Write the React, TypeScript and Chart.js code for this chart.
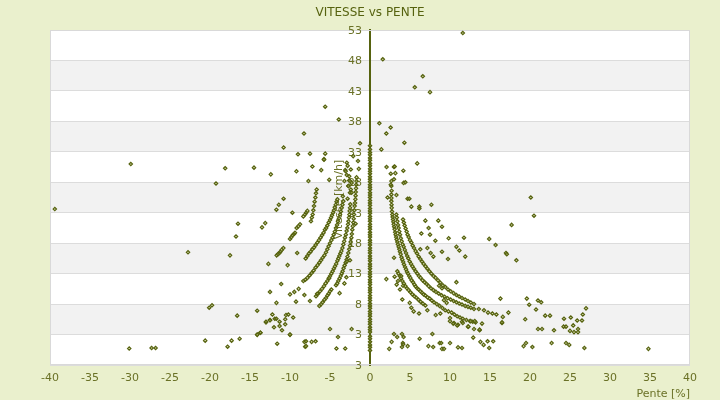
import { useEffect, useRef } from 'react'
import Chart from 'chart.js/auto'
import type { ChartConfiguration, Plugin } from 'chart.js'

const chartTitle = 'VITESSE vs PENTE'
const xTitle = 'Pente [%]'
const yTitle = 'Vitesse [km/h]'

// labels as printed on the axis, bottom to top
const yTickLabels = ['3', '3', '8', '13', '18', '23', '28', '33', '38', '43', '48', '53']

// speeds logged on flat ground (pente = 0)
const flatSpeeds = [
  34.0, 33.4, 32.9, 32.5, 32.0, 31.6, 31.1, 30.7, 30.2, 29.8, 29.4, 28.9, 28.5, 28.1, 27.6,
  27.2, 26.8, 26.3, 25.9, 25.5, 25.0, 24.6, 24.2, 23.7, 23.3, 22.9, 22.4, 22.0, 21.6, 21.1,
  20.7, 20.3, 19.8, 19.4, 19.0, 18.5, 18.1, 17.7, 17.2, 16.8, 16.4, 15.9, 15.5, 15.1, 14.6,
  14.2, 13.8, 13.3, 12.9, 12.5, 12.0, 11.6, 11.2, 10.7, 10.3, 9.9, 9.4, 9.0, 8.6, 8.1, 7.7,
  7.3, 6.8, 6.4, 6.0, 5.5, 5.1, 4.7, 4.2, 3.8, 3.4, 2.7, 2.3, 1.8, 1.3, 0.9, 0.4,
]

// descents: [pente, vitesse]
const downhillStreaks: [number, number][] = [
  [-6.33, 7.7], [-6.1, 8.0], [-5.92, 8.3], [-5.7, 8.7], [-5.5, 9.0], [-5.33, 9.4], [-5.17, 9.7], [-5.0, 10.1], [-4.83, 10.4],
  [-6.75, 9.3], [-6.5, 9.7], [-6.25, 10.1], [-6.0, 10.5], [-5.75, 10.95], [-5.55, 11.4], [-5.33, 11.8], [-5.15, 12.2],
  [-5.0, 12.6], [-4.83, 13.0], [-4.67, 13.4], [-4.52, 13.8], [-4.38, 14.2], [-4.23, 14.6], [-4.08, 15.1], [-3.95, 15.5],
  [-3.83, 15.9], [-3.7, 16.3], [-3.58, 16.7], [-3.45, 17.2], [-3.33, 17.8], [-3.23, 18.3], [-3.13, 18.9], [-3.02, 19.4],
  [-2.92, 20.0], [-2.83, 20.5], [-2.75, 21.1], [-2.69, 21.6], [-2.63, 22.2], [-2.58, 22.7], [-2.54, 23.3], [-2.5, 23.8], [-2.46, 24.4],
  [-8.33, 11.8], [-8.08, 12.0], [-7.83, 12.3], [-7.55, 12.7], [-7.29, 13.1], [-7.05, 13.5], [-6.79, 14.0], [-6.55, 14.4],
  [-6.33, 14.8], [-6.12, 15.2], [-5.92, 15.6], [-5.7, 16.0], [-5.5, 16.5], [-5.33, 17.0], [-5.17, 17.5], [-5.0, 18.0],
  [-4.83, 18.5], [-4.68, 18.9], [-4.54, 19.4], [-4.4, 19.9], [-4.25, 20.5], [-4.12, 21.0], [-4.0, 21.6], [-3.87, 22.1],
  [-3.75, 22.7], [-3.64, 23.2], [-3.54, 23.8], [-3.44, 24.3], [-3.33, 24.9],
  [-8.04, 15.5], [-7.83, 15.9], [-7.63, 16.3], [-7.42, 16.6], [-7.21, 17.0], [-7.0, 17.3], [-6.79, 17.7], [-6.58, 18.1],
  [-6.38, 18.5], [-6.18, 18.9], [-6.0, 19.3], [-5.81, 19.7], [-5.63, 20.2], [-5.48, 20.5], [-5.33, 20.9], [-5.16, 21.4],
  [-5.0, 21.8], [-4.87, 22.2], [-4.75, 22.6], [-4.62, 23.0], [-4.5, 23.4], [-4.4, 23.9], [-4.29, 24.3], [-4.18, 24.8], [-4.08, 25.2],
  [-4.25, 11.1], [-4.1, 11.4], [-3.96, 11.8], [-3.8, 12.2], [-3.67, 12.6], [-3.54, 13.0], [-3.42, 13.4], [-3.3, 13.9],
  [-3.17, 14.35], [-3.04, 14.8], [-2.92, 15.3], [-2.82, 15.8], [-2.71, 16.4], [-2.6, 17.0], [-2.5, 17.6], [-2.42, 18.2],
  [-2.33, 18.9], [-2.27, 19.5], [-2.21, 20.2], [-2.15, 20.8], [-2.08, 21.4], [-2.04, 22.0], [-2.0, 22.7], [-1.96, 23.4],
  [-1.92, 24.1], [-1.87, 24.6], [-1.83, 25.2],
  [-7.38, 21.6], [-7.27, 22.2], [-7.17, 22.7], [-7.08, 23.4], [-7.0, 24.1], [-6.92, 24.8], [-6.83, 25.5], [-6.75, 26.2], [-6.67, 26.8],
  [-10.0, 18.7], [-9.83, 19.0], [-9.67, 19.3], [-9.5, 19.5], [-9.38, 19.7],
  [-9.17, 20.5], [-8.95, 20.8], [-8.75, 21.1],
  [-8.33, 22.4], [-8.13, 22.7], [-7.98, 23.0], [-7.83, 23.3],
  [-11.67, 16.0], [-11.5, 16.2], [-11.33, 16.4], [-11.2, 16.6], [-11.04, 16.9], [-10.83, 17.2],
  [-10.0, 9.6], [-9.46, 10.0], [-8.92, 10.5],
  [-1.8, 25.8], [-1.78, 26.4], [-1.75, 27.0], [-1.72, 27.6], [-1.7, 28.2], [-1.68, 28.8],
]

const downhillScatter: [number, number][] = [
  [-3.1, 30.0], [-2.9, 29.2], [-3.2, 28.2], [-2.6, 28.3], [-2.7, 27.4], [-2.5, 26.3], [-2.8, 25.3], [-2.3, 27.9],
  [-2.4, 30.1], [-2.8, 30.7], [-3.4, 25.7], [-1.25, 34.4], [-5.75, 31.8],
  [-2.9, 31.2], [-3.04, 29.8], [-2.6, 29.0], [-2.5, 28.2], [-2.7, 27.4], [-2.4, 26.8], [-2.3, 26.3], [-1.5, 31.5],
  [-1.4, 30.2], [-2.1, 32.3],
  [-10.8, 33.7], [-14.5, 30.4], [-12.4, 29.3], [-9.0, 32.6], [-7.5, 32.7], [-5.6, 32.7], [-9.2, 29.8], [-7.2, 30.6],
  [-6.1, 30.0], [-5.75, 31.7], [-7.7, 28.2], [-5.1, 28.4], [-10.8, 25.3], [-11.4, 24.3], [-11.7, 23.5], [-9.7, 23.0],
  [-13.1, 21.3], [-13.5, 20.6], [-12.7, 14.6], [-10.3, 14.4], [-9.1, 16.4], [-11.1, 11.3], [-12.5, 10.0], [-11.7, 8.2],
  [-14.1, 6.9], [-12.2, 6.3], [-13.0, 5.0], [-12.5, 5.4], [-11.9, 5.6], [-11.7, 5.6], [-10.5, 6.2], [-10.2, 6.3],
  [-9.6, 5.8], [-10.6, 4.7], [-12.0, 4.2], [-11.3, 4.4], [-11.0, 3.7], [-14.1, 3.0], [-13.7, 3.3], [-10.0, 3.0],
  [-11.6, 1.5], [-8.2, 1.8], [-7.3, 1.8], [-8.1, 1.0], [-5.0, 3.9], [-4.0, 2.6], [-4.2, 0.7], [-3.1, 0.7], [-2.3, 3.9],
  [-9.25, 8.4], [-8.2, 9.5], [-7.5, 8.5], [-6.6, 9.7], [-5.1, 12.3], [-2.95, 12.4], [-3.8, 9.8], [-3.2, 11.4],
  [-1.8, 21.2], [-2.9, 15.0], [-2.5, 15.2], [-8.0, 1.9], [-8.0, 1.1], [-6.8, 1.9], [-13.0, 5.1], [-12.5, 5.35],
  [-11.3, 5.1], [-10.6, 5.5], [-10.0, 2.95],
  [-5.6, 40.4], [-3.9, 38.3], [-8.25, 36.0],
  [-29.9, 31.0], [-18.1, 30.3], [-19.25, 27.8], [-16.5, 21.2], [-16.75, 19.1], [-22.75, 16.5], [-17.5, 16.0],
  [-39.4, 23.6], [-20.1, 7.4], [-19.75, 7.8], [-16.6, 6.1], [-30.1, 0.7], [-27.3, 0.8], [-26.8, 0.8], [-20.6, 2.0],
  [-17.8, 1.0], [-17.3, 2.0], [-16.3, 2.3], [-14.1, 2.95], [-13.7, 3.3],
]

// climbs: [pente, vitesse]
const uphillStreaks: [number, number][] = [
  [2.67, 26.0], [2.67, 25.4], [2.67, 24.9], [2.69, 24.3], [2.71, 23.8], [2.75, 23.2], [2.79, 22.7], [2.83, 22.3],
  [2.88, 21.9], [2.92, 21.5], [2.96, 21.1], [3.02, 20.7], [3.08, 20.3], [3.15, 19.8], [3.21, 19.4], [3.27, 19.0],
  [3.33, 18.6], [3.42, 18.2], [3.5, 17.8], [3.58, 17.4], [3.67, 17.0], [3.75, 16.6], [3.83, 16.2], [3.94, 15.7],
  [4.04, 15.3], [4.15, 14.9], [4.25, 14.5], [4.38, 14.1], [4.5, 13.7], [4.62, 13.3], [4.75, 13.0], [4.9, 12.6],
  [5.04, 12.3], [5.2, 11.9], [5.38, 11.6], [5.55, 11.2], [5.71, 10.9], [5.9, 10.6], [6.08, 10.4], [6.3, 10.1],
  [6.5, 9.85], [6.7, 9.6], [6.92, 9.4], [7.2, 9.1], [7.46, 8.9], [7.73, 8.6], [8.0, 8.3], [8.35, 8.0], [8.7, 7.7],
  [9.05, 7.35], [9.4, 7.0], [9.8, 6.8], [10.2, 6.6], [10.55, 6.3], [10.9, 6.0], [11.25, 5.8], [11.6, 5.6],
  [12.05, 5.4], [12.5, 5.2], [12.85, 5.1], [13.2, 5.0],
  [3.29, 22.7], [3.35, 22.2], [3.42, 21.6], [3.5, 21.0], [3.58, 20.5], [3.66, 19.9], [3.75, 19.4], [3.85, 18.8],
  [3.96, 18.3], [4.08, 17.8], [4.21, 17.4], [4.35, 16.9], [4.5, 16.4], [4.65, 15.9], [4.79, 15.5], [4.96, 15.0],
  [5.13, 14.6], [5.3, 14.2], [5.5, 13.8], [5.7, 13.4], [5.92, 13.0], [6.12, 12.6], [6.33, 12.3], [6.58, 11.9],
  [6.83, 11.6], [7.08, 11.3], [7.33, 10.95], [7.62, 10.6], [7.92, 10.3], [8.25, 10.0], [8.58, 9.74], [8.95, 9.45],
  [9.33, 9.2], [9.7, 8.95], [10.08, 8.75], [10.45, 8.5], [10.8, 8.3], [11.15, 8.1], [11.5, 7.93], [11.9, 7.7],
  [12.25, 7.55], [12.6, 7.4], [13.0, 7.2],
  [4.13, 21.9], [4.23, 21.4], [4.33, 20.9], [4.45, 20.4], [4.58, 19.9], [4.7, 19.4], [4.83, 19.0], [5.0, 18.5],
  [5.17, 18.1], [5.33, 17.6], [5.5, 17.2], [5.7, 16.7], [5.88, 16.3], [6.08, 15.8], [6.29, 15.4], [6.5, 15.0],
  [6.71, 14.6], [6.94, 14.2], [7.17, 13.8], [7.42, 13.4], [7.67, 13.0], [7.94, 12.6], [8.21, 12.3], [8.5, 11.9],
  [8.79, 11.5], [9.1, 11.1], [9.42, 10.8], [9.75, 10.4], [10.08, 10.1], [10.45, 9.8], [10.8, 9.5], [11.15, 9.25],
  [11.5, 9.0], [11.9, 8.75], [12.25, 8.5], [12.6, 8.25], [13.0, 8.0],
  [3.42, 13.4], [3.56, 13.0], [3.71, 12.6], [3.88, 12.2], [4.04, 11.8], [4.23, 11.4], [4.42, 10.95], [4.62, 10.6],
  [4.83, 10.3], [5.06, 9.95], [5.29, 9.6], [5.54, 9.3], [5.79, 9.03], [6.06, 8.7], [6.33, 8.37], [6.62, 8.07], [6.92, 7.77],
]

const uphillScatter: [number, number][] = [
  [2.67, 28.2], [2.67, 27.4], [3.0, 28.5], [2.6, 29.4], [2.6, 27.6], [2.7, 26.6], [2.2, 25.5], [3.3, 25.9],
  [1.17, 37.7], [2.58, 37.0], [2.04, 36.0], [4.3, 34.5], [1.42, 33.4], [5.9, 31.1], [2.07, 30.5], [3.0, 30.5],
  [4.17, 29.9], [4.2, 27.9], [4.7, 25.3], [3.08, 30.6], [3.17, 29.5], [4.42, 28.0], [4.92, 25.3], [5.17, 24.0],
  [6.17, 24.0], [6.17, 23.7], [7.67, 24.3], [6.92, 21.7], [8.54, 21.7], [7.33, 20.5], [7.5, 19.4], [8.17, 18.4],
  [6.42, 19.6], [9.0, 20.7], [9.83, 18.8], [11.75, 18.9], [10.8, 17.4], [11.17, 16.8], [11.9, 15.8], [9.75, 15.4],
  [9.0, 16.6], [7.17, 17.2], [7.58, 16.4], [7.92, 15.8], [6.29, 17.0], [3.0, 15.6], [2.04, 12.1], [3.08, 12.5],
  [3.5, 11.8], [3.33, 11.2], [3.9, 12.6], [4.13, 11.0], [3.75, 10.4], [4.04, 8.75], [10.8, 11.6], [8.63, 11.0],
  [9.0, 10.6], [17.7, 21.0], [15.7, 17.7], [14.9, 18.7], [17.0, 16.4], [17.1, 16.2], [18.3, 15.2], [16.3, 8.9],
  [17.3, 6.6], [16.6, 5.9], [16.5, 4.9], [20.1, 25.5], [20.5, 22.5],
  [4.96, 8.2], [5.17, 7.4], [5.46, 6.8], [6.13, 6.45], [7.17, 7.0], [8.21, 6.2], [8.79, 6.45], [9.25, 8.65],
  [9.58, 8.2], [10.0, 5.7], [10.5, 4.9], [11.0, 4.6], [11.5, 5.1], [12.25, 4.3], [13.0, 3.9], [13.7, 3.7],
  [13.6, 7.2], [14.25, 7.0], [14.75, 6.6], [15.3, 6.45], [15.8, 6.3],
  [19.6, 8.9], [19.9, 7.9], [21.0, 8.6], [21.4, 8.3], [20.75, 7.1], [22.5, 6.1], [21.9, 6.1], [24.25, 5.6],
  [25.1, 5.8], [25.9, 5.3], [25.4, 4.5], [27.0, 7.3], [26.6, 6.3],
  [10.0, 5.2], [10.4, 4.8], [10.9, 4.5], [11.6, 4.9], [12.3, 4.3], [12.6, 5.2], [13.1, 5.2], [13.7, 3.8],
  [14.0, 4.8], [16.5, 5.0], [19.4, 5.5], [21.0, 3.9], [21.5, 3.9], [23.0, 3.7], [24.2, 4.3], [24.5, 4.3],
  [25.0, 3.6], [25.5, 3.4], [26.0, 3.9], [26.0, 3.4], [26.5, 5.3],
  [3.0, 3.1], [3.4, 2.6], [4.0, 3.1], [4.2, 2.6], [2.7, 1.8], [2.4, 0.65], [4.1, 1.6], [4.15, 1.4], [4.0, 0.95],
  [4.7, 1.1], [6.2, 2.3], [7.8, 3.1], [7.3, 1.1], [7.9, 0.95], [8.7, 1.6], [8.9, 1.6], [9.0, 0.65], [9.25, 0.65],
  [10.0, 1.6], [11.0, 0.9], [11.5, 0.8], [12.9, 2.5], [13.8, 1.8], [14.2, 1.3], [14.7, 1.9], [15.4, 1.9],
  [14.9, 0.8], [19.2, 1.1], [19.5, 1.6], [20.3, 0.95], [22.7, 1.6], [24.5, 1.6], [24.9, 1.3], [26.8, 0.8],
  [34.8, 0.65], [41.0, 4.2],
  [11.6, 52.5], [1.6, 48.2], [5.6, 43.6], [6.6, 45.4], [7.5, 42.8], [0.95, 57.8],
]

const ink = '#56620f'
const labelInk = '#6a7126'
const fontFamily = "'DejaVu Sans', Verdana, sans-serif"

const plotDecor: Plugin<'scatter'> = {
  id: 'plotDecor',
  beforeDraw(chart) {
    const { ctx, chartArea: a } = chart
    const ys = chart.scales.y
    ctx.save()
    ctx.fillStyle = '#ffffff'
    ctx.fillRect(a.left, a.top, a.width, a.height)
    // grey bands every other interval
    ctx.fillStyle = '#f2f2f2'
    ys.ticks.forEach((t, i) => {
      if (i % 2 === 1 && i + 1 < ys.ticks.length) {
        const top = ys.getPixelForValue(ys.ticks[i + 1].value)
        const bottom = ys.getPixelForValue(t.value)
        ctx.fillRect(a.left, top, a.width, bottom - top)
      }
    })
    ctx.restore()
  },
  beforeDatasetsDraw(chart) {
    const { ctx, chartArea: a } = chart
    const ys = chart.scales.y
    const x0 = chart.scales.x.getPixelForValue(0)
    ctx.save()
    ctx.strokeStyle = '#d9d9d9'
    ctx.lineWidth = 1
    ctx.strokeRect(a.left + 0.5, a.top + 0.5, a.width - 1, a.height - 1)

    ctx.font = `11px ${fontFamily}`
    ctx.fillStyle = labelInk
    // y tick labels, left of the centred axis
    ctx.textAlign = 'right'
    ctx.textBaseline = 'middle'
    ys.ticks.forEach((t, i) => {
      ctx.fillText(yTickLabels[i] ?? String(t.value), x0 - 8, ys.getPixelForValue(t.value) + 1)
    })
    // x title, bottom right
    ctx.fillText(xTitle, a.right, 394)
    // y title, rotated
    ctx.translate(x0 - 31, (a.top + a.bottom) / 2 + 2)
    ctx.rotate(-Math.PI / 2)
    ctx.textAlign = 'center'
    ctx.fillText(yTitle, 0, 0)
    ctx.restore()
  },
}

export default function App() {
  const canvasRef = useRef<HTMLCanvasElement>(null)

  useEffect(() => {
    document.body.style.margin = '0'
    if (!canvasRef.current) return

    const points = [
      ...flatSpeeds.map((v) => ({ x: 0, y: v })),
      ...downhillStreaks.map(([x, y]) => ({ x, y })),
      ...downhillScatter.map(([x, y]) => ({ x, y })),
      ...uphillStreaks.map(([x, y]) => ({ x, y })),
      ...uphillScatter.map(([x, y]) => ({ x, y })),
    ]

    const config: ChartConfiguration<'scatter'> = {
      type: 'scatter',
      data: {
        datasets: [
          {
            label: 'Vitesse',
            data: points,
            pointStyle: 'rectRot',
            pointRadius: 1.7,
            pointBorderWidth: 1.2,
            borderColor: ink,
            backgroundColor: 'rgba(190,200,110,0.5)',
            clip: false,
          },
        ],
      },
      options: {
        animation: false,
        responsive: true,
        maintainAspectRatio: false,
        layout: { padding: { left: 50, right: 30, top: 2, bottom: 7.8 } },
        plugins: {
          legend: { display: false },
          tooltip: { enabled: false },
          title: {
            display: true,
            text: chartTitle,
            color: ink,
            font: { family: fontFamily, size: 12, weight: 'normal' },
            padding: { top: 4, bottom: 9.6 },
          },
        },
        scales: {
          x: {
            type: 'linear',
            min: -40,
            max: 40,
            grid: { display: false, drawTicks: false },
            border: { display: false },
            ticks: {
              stepSize: 5,
              padding: 7,
              color: labelInk,
              font: { family: fontFamily, size: 11 },
            },
          },
          y: {
            type: 'linear',
            position: { x: 0 },
            min: -2,
            max: 53,
            grid: { color: '#dcdcdc', drawTicks: false },
            border: { color: ink, width: 2 },
            ticks: { stepSize: 5, display: false },
          },
        },
      },
      plugins: [plotDecor],
    }

    const chart = new Chart(canvasRef.current, config)
    return () => chart.destroy()
  }, [])

  return (
    <div style={{ width: 720, height: 400, background: '#eaf0cd', position: 'relative' }}>
      <canvas ref={canvasRef} />
    </div>
  )
}
